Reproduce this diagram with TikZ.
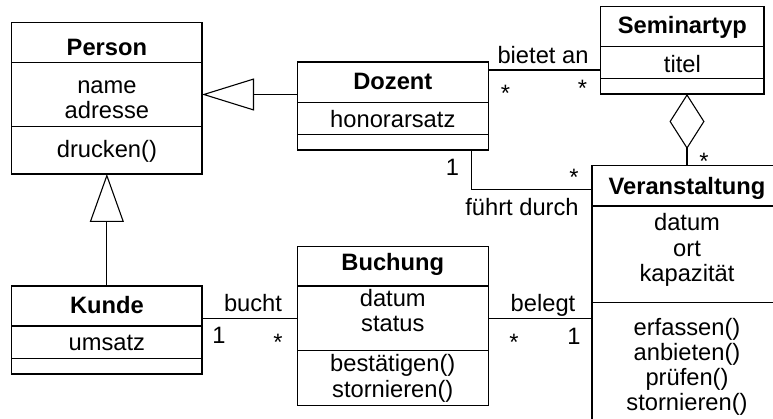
\documentclass[tikz,border=0pt]{standalone}
\usepackage{fontspec}
\setmainfont{Liberation Sans}
\usetikzlibrary{arrows.meta,calc}
\newcommand\cmplines[1]{\begin{tabular}[t]{@{}c@{}}#1\end{tabular}}
\tikzset{
  cmp/.style={draw, line width=1.1pt, inner sep=0pt, outer sep=0pt, anchor=north west},
  txt/.style={font=\fontsize{23.7}{25.3}\selectfont, inner sep=0pt, anchor=base},
  conn/.style={line width=1.1pt},
  genh/.style={conn, -{Triangle[open, length=52pt, width=32pt, line width=1.1pt]}},
  genv/.style={conn, -{Triangle[open, length=48pt, width=34pt, line width=1.1pt]}},
  aggr/.style={conn, -{Diamond[open, length=55pt, width=35pt, line width=1.1pt]}},
}
\begin{document}
\begin{tikzpicture}[x=1pt, y=-1pt]
\useasboundingbox (0,0) rectangle (773,419);
\clip (0,0) rectangle (773,419);

% Person
\node[cmp, minimum width=190.3pt, minimum height=39.6pt] (perH) at (11.7,22.7) {};
\node[cmp, minimum width=190.3pt, minimum height=64.4pt] (perA) at (perH.south west) {};
\node[cmp, minimum width=190.3pt, minimum height=47.3pt] (perM) at (perA.south west) {};
% Dozent
\node[cmp, minimum width=191pt, minimum height=40.3pt] (dozH) at (297.3,62) {};
\node[cmp, minimum width=191pt, minimum height=32pt] (dozA) at (dozH.south west) {};
\node[cmp, minimum width=191pt, minimum height=15.7pt] (dozM) at (dozA.south west) {};
% Seminartyp
\node[cmp, minimum width=163.3pt, minimum height=40pt] (semH) at (600.7,6.7) {};
\node[cmp, minimum width=163.3pt, minimum height=31.6pt] (semA) at (semH.south west) {};
\node[cmp, minimum width=163.3pt, minimum height=15.7pt] (semM) at (semA.south west) {};
% Veranstaltung
\node[cmp, minimum width=190pt, minimum height=40.3pt] (vaH) at (592,165.7) {};
\node[cmp, minimum width=190pt, minimum height=96.7pt] (vaA) at (vaH.south west) {};
\node[cmp, minimum width=190pt, minimum height=130pt] (vaM) at (vaA.south west) {};
% Kunde
\node[cmp, minimum width=190.3pt, minimum height=40pt] (kunH) at (11.7,286) {};
\node[cmp, minimum width=190.3pt, minimum height=32.3pt] (kunA) at (kunH.south west) {};
\node[cmp, minimum width=190.3pt, minimum height=15.7pt] (kunM) at (kunA.south west) {};
% Buchung
\node[cmp, minimum width=191pt, minimum height=39.3pt] (bucH) at (297.3,246.7) {};
\node[cmp, minimum width=191pt, minimum height=64.7pt] (bucA) at (bucH.south west) {};
\node[cmp, minimum width=191pt, minimum height=55pt] (bucM) at (bucA.south west) {};

% class texts
\node[txt] (tPerH) at (106.9,56) {\bfseries Person};
\node[txt] (tPerA) at (106.9,93.3) {\cmplines{name\\adresse}};
\node[txt] (tPerM) at (106.9,157.3) {drucken()};
\node[txt] (tDozH) at (392.8,89.3) {\bfseries Dozent};
\node[txt] (tDozA) at (392.8,127.3) {honorarsatz};
\node[txt] (tSemH) at (682.4,33.3) {\bfseries Seminartyp};
\node[txt] (tSemA) at (682.4,72.7) {titel};
\node[txt] (tVaH) at (687,194.3) {\bfseries Veranstaltung};
\node[txt] (tVaA) at (687,231) {\cmplines{datum\\ort\\kapazität}};
\node[txt] (tVaM) at (687,335) {\cmplines{erfassen()\\anbieten()\\prüfen()\\stornieren()}};
\node[txt] (tKunH) at (106.9,313.3) {\bfseries Kunde};
\node[txt] (tKunA) at (106.9,350.7) {umsatz};
\node[txt] (tBucH) at (392.8,271) {\bfseries Buchung};
\node[txt] (tBucA) at (392.8,306.7) {\cmplines{datum\\status}};
\node[txt] (tBucM) at (392.8,371.7) {\cmplines{bestätigen()\\stornieren()}};

% generalizations
\draw[genh] (perA.east -| dozH.west) -- (perA.east);
\draw[genv] (kunH.north) -- (perM.south);

% aggregation
\draw[aggr] (vaH.north) -- (vaH.north |- semM.south);
\node[txt] (mAgg) at (704,169.7) {*};

% bietet an
\coordinate (bA) at ($(dozH.north east)+(0,8)$);
\draw[conn] (bA) -- (bA -| semA.west);
\node[txt] (lBietet) at (543,64) {bietet an};
\node[txt] (mB1) at (505.5,102) {*};
\node[txt] (mB2) at (582.5,97) {*};

% fuehrt durch
\coordinate (fA) at ($(dozM.south east)+(-17,0)$);
\coordinate (fB) at ($(vaH.west)+(0,3.5)$);
\draw[conn] (fA) |- (fB);
\node[txt] (mF1) at (452.5,176) {1};
\node[txt] (mF2) at (574,185.3) {*};
\node[txt] (lFuehrt) at (522,216) {führt durch};

% bucht
\draw[conn] (kunH.east |- bucA.west) -- (bucA.west);
\node[txt] (lBucht) at (253,311.7) {bucht};
\node[txt] (mK1) at (219,343) {1};
\node[txt] (mK2) at (278,350) {*};

% belegt
\draw[conn] (bucA.east) -- (bucA.east -| vaA.west);
\node[txt] (lBelegt) at (543,312) {belegt};
\node[txt] (mL1) at (514,350) {*};
\node[txt] (mL2) at (574,344) {1};
\end{tikzpicture}
\end{document}
